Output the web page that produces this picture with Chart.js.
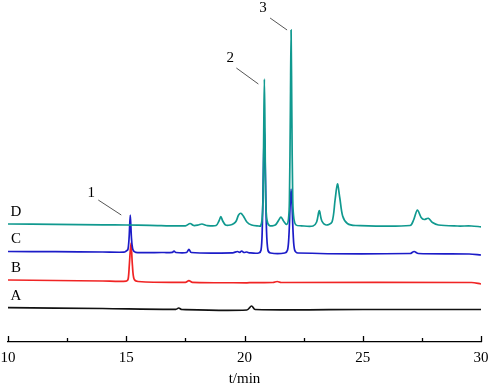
<!DOCTYPE html>
<html>
<head>
<meta charset="utf-8">
<script src="https://cdn.jsdelivr.net/npm/chart.js@4"></script>
<style>
  html, body { margin: 0; padding: 0; background: #fff; }
  #wrap { width: 491px; height: 387px; }
</style>
</head>
<body>
<div id="wrap"><canvas id="chart" width="491" height="387"></canvas></div>
<script>
// retention time (min) / detector signal (a.u.), traces stacked as in the figure
const timesD = [10.0, 12.0, 14.0, 15.0, 16.0, 17.5, 17.7, 17.85, 18.05, 18.2, 18.4, 18.8, 18.92, 19.0, 19.08, 19.2, 19.4, 19.55, 19.65, 19.75, 19.85, 19.95, 20.1, 20.3, 20.6, 20.68, 20.74, 20.78, 20.81, 20.84, 20.87, 20.9, 20.95, 21.05, 21.3, 21.45, 21.54, 21.65, 21.78, 21.86, 21.9, 21.94, 21.97, 22.0, 22.04, 22.09, 22.18, 22.4, 22.9, 23.05, 23.16, 23.27, 23.45, 23.7, 23.83, 23.93, 24.03, 24.15, 24.35, 24.7, 27.0, 27.15, 27.31, 27.47, 27.6, 27.77, 27.95, 28.2, 29.0, 29.6, 30.0]
const signalD = [118, 117.7, 117.2, 117, 116.7, 116.2, 118.5, 116.5, 117, 118, 116.5, 116.5, 121, 125.3, 121, 117, 117, 118.5, 121, 127, 128.7, 126, 120, 117, 116, 116, 122, 140, 202, 263, 202, 140, 122, 116.5, 117, 122, 125, 121, 117.5, 123, 142, 232, 312, 232, 142, 123, 117, 116.2, 116, 120, 131.3, 121, 117, 120, 142, 158, 144, 126, 118.5, 116.5, 116.5, 122, 132, 124.5, 122.5, 123.7, 119.5, 117, 116, 116, 115.2]

const timesC = [10, 12, 14, 14.9, 15.0, 15.07, 15.12, 15.17, 15.22, 15.28, 15.4, 16.5, 16.95, 17.02, 17.1, 17.55, 17.65, 17.75, 19.5, 19.7, 19.8, 19.88, 19.97, 20.1, 20.2, 20.6, 20.7, 20.75, 20.8, 20.84, 20.88, 20.93, 20.99, 21.1, 21.7, 21.82, 21.88, 21.93, 21.97, 22.01, 22.06, 22.12, 22.25, 27.0, 27.17, 27.35, 29.5, 30]
const signalC = [90.5, 90.3, 90, 89.8, 91, 92.5, 104, 127, 104, 92.5, 89.7, 89.5, 89.7, 91, 89.5, 89.5, 92.7, 89.5, 89.2, 90.5, 89.7, 91, 89.5, 90, 89.2, 89, 92, 112, 172, 214, 172, 112, 92, 89, 89, 92, 107, 137, 153, 137, 107, 92, 89, 88.5, 90.5, 88.5, 88, 87]

const timesB = [10, 12, 14, 15.0, 15.08, 15.13, 15.2, 15.26, 15.33, 15.5, 17.5, 17.65, 17.8, 20.1, 20.3, 21.2, 21.38, 21.55, 29.6, 30]
const signalB = [62, 61.5, 61, 60.8, 63, 77, 99, 77, 63, 60.5, 59.7, 61.3, 59.7, 59.2, 59.4, 59.5, 60.5, 59.5, 59.5, 58]

const timesA = [10, 14, 17.1, 17.22, 17.35, 20.1, 20.3, 20.45, 25, 30]
const signalA = [34.3, 33.5, 32.7, 34, 32.5, 32, 36, 32.5, 32.5, 32.5]

const traceNames = ['D', 'C', 'B', 'A']
const traceColors = ['#10998f', '#1c1cc8', '#f02424', '#111111']

const xTicks = [10, 15, 20, 25, 30]
const xMinorTicks = [12.5, 17.5, 22.5, 27.5]

// numbered peaks: label, trace index, retention time
const peakLabels = ['1', '2', '3']
const peakTrace = [1, 0, 0]
const peakTimes = [15.17, 20.84, 21.97]

const allTimes = [timesD, timesC, timesB, timesA]
const allSignals = [signalD, signalC, signalB, signalA]

const serif = "'Liberation Serif', 'Times New Roman', serif"

// leader line geometry for each numbered peak (pixels, relative to the peak top)
const leaderStyle = [
  { end: [-9, 0], start: [-32, -15], text: [-39, -22] },
  { end: [-6, 5], start: [-28, -11], text: [-34, -21] },
  { end: [-4, 0], start: [-21, -12], text: [-28, -22] },
]

const decorations = {
  id: 'decorations',
  afterDatasetsDraw(chart) {
    const { ctx, scales } = chart
    const x = scales.x
    const y = scales.y
    const axisY = chart.chartArea.bottom

    ctx.save()
    ctx.strokeStyle = '#000'
    ctx.lineWidth = 1.3
    // inward tick marks
    xTicks.forEach(t => {
      const px = Math.round(x.getPixelForValue(t)) + 0.5
      ctx.beginPath(); ctx.moveTo(px, axisY); ctx.lineTo(px, axisY - 6); ctx.stroke()
    })
    xMinorTicks.forEach(t => {
      const px = Math.round(x.getPixelForValue(t)) + 0.5
      ctx.beginPath(); ctx.moveTo(px, axisY); ctx.lineTo(px, axisY - 4); ctx.stroke()
    })

    // trace names at the left end of each trace
    ctx.fillStyle = '#000'
    ctx.font = '15px ' + serif
    ctx.textAlign = 'center'
    ctx.textBaseline = 'middle'
    traceNames.forEach((name, i) => {
      const px = x.getPixelForValue(allTimes[i][0]) + 8
      const py = y.getPixelForValue(allSignals[i][0]) - 12
      ctx.fillText(name, px, py)
    })

    // numbered peaks with leader lines
    ctx.strokeStyle = '#555'
    ctx.lineWidth = 1
    peakLabels.forEach((lab, k) => {
      const tr = peakTrace[k]
      const idx = allTimes[tr].indexOf(peakTimes[k])
      const px = x.getPixelForValue(peakTimes[k])
      const py = y.getPixelForValue(allSignals[tr][idx])
      const s = leaderStyle[k]
      ctx.beginPath()
      ctx.moveTo(px + s.start[0], py + s.start[1])
      ctx.lineTo(px + s.end[0], py + s.end[1])
      ctx.stroke()
      ctx.fillText(lab, px + s.text[0], py + s.text[1])
    })
    ctx.restore()
  }
}

new Chart(document.getElementById('chart'), {
  type: 'line',
  data: {
    datasets: traceNames.map((name, i) => ({
      label: name,
      data: allTimes[i].map((t, j) => ({ x: t, y: allSignals[i][j] })),
      borderColor: traceColors[i],
      borderWidth: 1.7,
      pointRadius: 0,
      tension: 0.3,
      fill: false,
    })),
  },
  options: {
    responsive: false,
    animation: false,
    devicePixelRatio: 1,
    layout: { padding: { left: 8, right: 10, top: 0, bottom: 0 } },
    plugins: {
      legend: { display: false },
      tooltip: { enabled: false },
    },
    scales: {
      x: {
        type: 'linear',
        min: 10,
        max: 30,
        afterBuildTicks: scale => { scale.ticks = xTicks.map(v => ({ value: v })) },
        afterFit: scale => {
          scale.paddingLeft = 0
          scale.paddingRight = 0
          scale.height = 45
        },
        grid: { display: false, drawTicks: false },
        border: { display: true, color: '#000', width: 1.3 },
        ticks: {
          padding: 9,
          color: '#000',
          font: { family: serif, size: 15, lineHeight: 1 },
        },
        title: {
          display: true,
          text: 't/min',
          color: '#000',
          font: { family: serif, size: 15, lineHeight: 1 },
          padding: { top: 8, bottom: 0 },
        },
      },
      y: {
        display: false,
        min: 0,
        max: 342,
      },
    },
  },
  plugins: [decorations],
})
</script>
</body>
</html>
